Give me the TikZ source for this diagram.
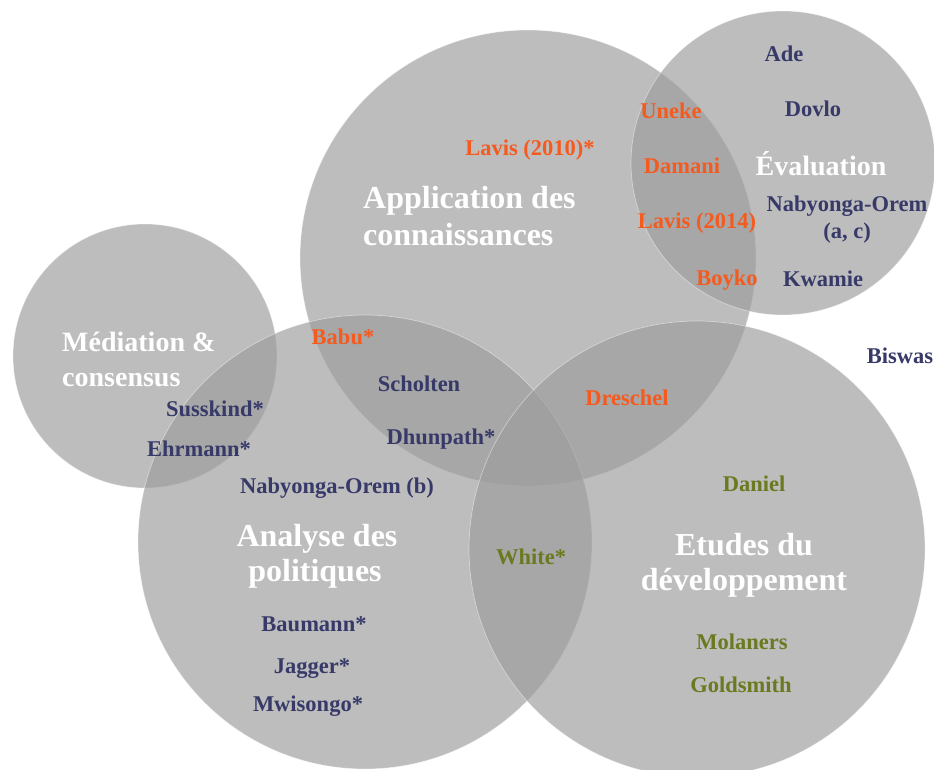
\documentclass[tikz,border=0pt]{standalone}
\usepackage{fontspec}
\setmainfont{Liberation Serif}
\definecolor{cfill}{RGB}{158,158,158}
\definecolor{navyc}{RGB}{55,58,104}
\definecolor{orangec}{RGB}{245,90,30}
\definecolor{greenc}{RGB}{107,122,32}
\tikzset{
  venn/.style={circle, inner sep=0pt, fill=cfill, fill opacity=0.68, draw=white, draw opacity=0.45, line width=0.7pt},
  nm/.style={inner sep=0pt, font=\bfseries\fontsize{22.5}{27}\selectfont, text height=0.66em, text depth=0pt},
  nv/.style={nm, text=navyc},
  no/.style={nm, text=orangec},
  ng/.style={nm, text=greenc},
  bigl/.style={inner sep=0pt, text=white, font=\bfseries\fontsize{32}{36}\selectfont, text height=0.66em, text depth=0pt},
  midl/.style={inner sep=0pt, text=white, font=\bfseries\fontsize{28}{35}\selectfont, text height=0.66em, text depth=0pt}
}
\begin{document}
\begin{tikzpicture}[x=1pt,y=-1pt]
\useasboundingbox (0,0) rectangle (934,770);
\fill[white] (0,0) rectangle (934,770);
% circles
\node[venn, minimum size=456pt] (capp) at (528,258) {};
\node[venn, minimum size=304pt] (ceval) at (783,163) {};
\node[venn, minimum size=264pt] (cmed) at (145,356) {};
\node[venn, minimum size=454pt] (cana) at (365,542) {};
\node[venn, minimum size=456pt] (cetu) at (697,549) {};
% category labels
\node[bigl, anchor=west] (lappa) at (363,205) {Application des};
\node[bigl, anchor=west] (lappb) at (363,242) {connaissances};
\node[midl] (leval) at (821,172) {Évaluation};
\node[midl, anchor=west] (lmeda) at (62,348) {Médiation \&};
\node[midl, anchor=west] (lmedb) at (62,383) {consensus};
\node[bigl] (lanaa) at (317,543) {Analyse des};
\node[bigl] (lanab) at (315,578) {politiques};
\node[bigl] (letua) at (744,552) {Etudes du};
\node[bigl] (letub) at (744,587) {développement};
% names
\node[no] (lavisa) at (530,152) {Lavis (2010)*};
\node[no] (uneke) at (671,115) {Uneke};
\node[no] (damani) at (682,170) {Damani};
\node[no] (lavisb) at (697,225) {Lavis (2014)};
\node[no] (boyko) at (727,282) {Boyko};
\node[nv] (ade) at (784,58) {Ade};
\node[nv] (dovlo) at (813,113) {Dovlo};
\node[nv] (naba) at (847,208) {Nabyonga-Orem};
\node[nv] (nabc) at (847,235) {(a, c)};
\node[nv] (kwamie) at (823,283) {Kwamie};
\node[nv] (biswas) at (900,360) {Biswas};
\node[nv] (susskind) at (215,413) {Susskind*};
\node[nv] (ehrmann) at (199,453) {Ehrmann*};
\node[no] (babu) at (343,341) {Babu*};
\node[nv] (scholten) at (419,388) {Scholten};
\node[nv] (dhunpath) at (441,441) {Dhunpath*};
\node[nv] (nabb) at (337,490) {Nabyonga-Orem (b)};
\node[ng] (white) at (531,561) {White*};
\node[nv] (baumann) at (314,628) {Baumann*};
\node[nv] (jagger) at (312,670) {Jagger*};
\node[nv] (mwisongo) at (308,708) {Mwisongo*};
\node[no] (dreschel) at (627,402) {Dreschel};
\node[ng] (daniel) at (754,488) {Daniel};
\node[ng] (molaners) at (742,646) {Molaners};
\node[ng] (goldsmith) at (741,689) {Goldsmith};
\end{tikzpicture}
\end{document}
